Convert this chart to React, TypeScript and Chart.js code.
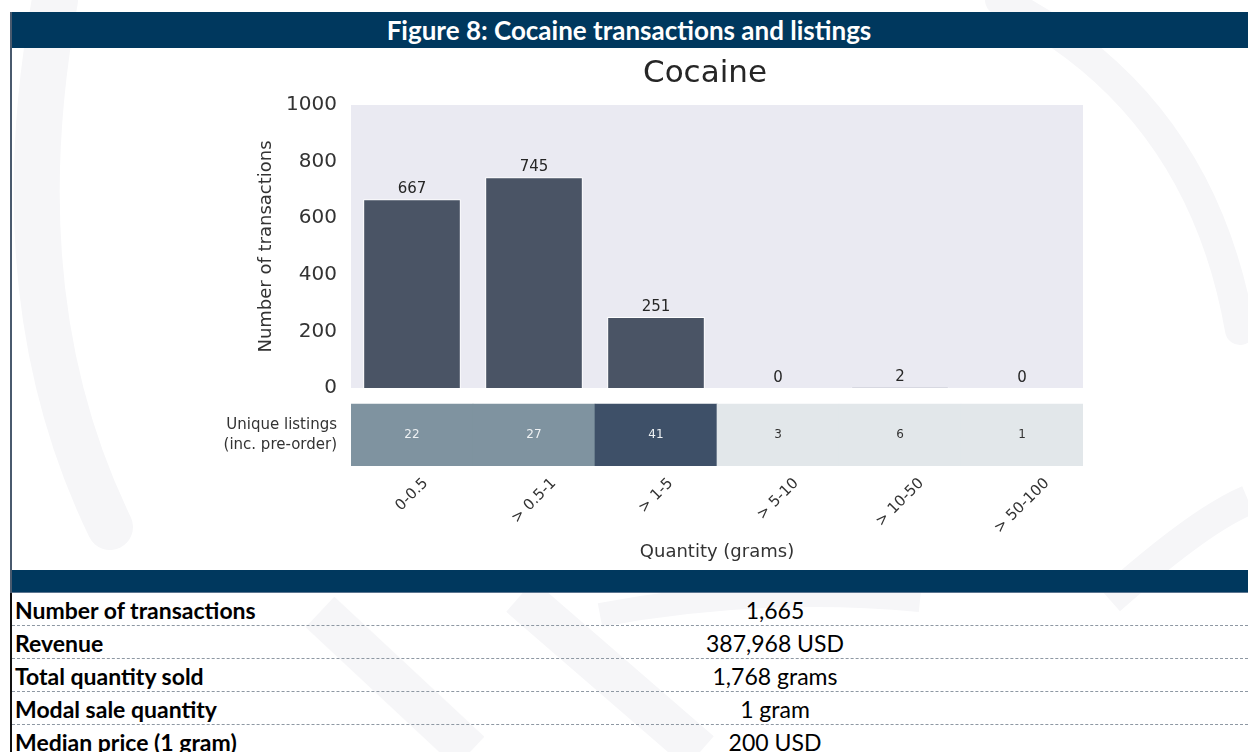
import React, { useEffect, useRef } from 'react';
import { Chart, registerables } from 'chart.js';

Chart.register(...registerables);

// ---------- data ----------
const categories = ['0-0.5', '> 0.5-1', '> 1-5', '> 5-10', '> 10-50', '> 50-100'];
const transactions = [667, 745, 251, 0, 2, 0];
const uniqueListings = [22, 27, 41, 3, 6, 1];
const yTicks = [0, 200, 400, 600, 800, 1000];
const chartTitle = 'Cocaine';
const figureTitle = 'Figure 8: Cocaine transactions and listings';
const yAxisLabel = 'Number of transactions';
const xAxisLabel = 'Quantity (grams)';
const listingsLabel = ['Unique listings', '(inc. pre-order)'];
const statLabels = ['Number of transactions', 'Revenue', 'Total quantity sold', 'Modal sale quantity', 'Median price (1 gram)'];
const statValues = ['1,665', '387,968 USD', '1,768 grams', '1 gram', '200 USD'];

// ---------- styles ----------
const NAVY = '#00385E';
const BAR = '#4A5465';
const PLOT_BG = '#EAEAF2';
const TXT = '#333333';
const FONT = "'DejaVu Sans', sans-serif";
const CAL = "Lato, 'Open Sans', sans-serif";
const SWIRL = '#F6F6F8';

const cellColor = (v: number) => (v >= 35 ? '#3E5068' : v >= 15 ? '#7F93A0' : '#E2E7EA');
const cellText = (v: number) => (v >= 15 ? '#EEF1F3' : '#333333');

const bgPlugin = {
  id: 'plotBg',
  beforeDatasetsDraw(chart: any) {
    const { ctx, chartArea } = chart;
    const y = chart.scales.y;
    ctx.save();
    ctx.fillStyle = PLOT_BG;
    ctx.fillRect(chartArea.left, y.top, chartArea.right - chartArea.left, y.bottom - y.top);
    ctx.restore();
  },
};

const labelPlugin = {
  id: 'labels',
  afterDraw(chart: any) {
    const { ctx, chartArea } = chart;
    ctx.save();
    // title
    ctx.font = `31px ${FONT}`;
    ctx.fillStyle = '#262626';
    ctx.textAlign = 'center';
    ctx.textBaseline = 'alphabetic';
    ctx.fillText(chartTitle, (chartArea.left + chartArea.right) / 2 - 12, 34);

    // bar value labels
    const m0 = chart.getDatasetMeta(0);
    ctx.font = `15px ${FONT}`;
    ctx.fillStyle = '#262626';
    m0.data.forEach((el: any, i: number) => {
      ctx.fillText(String(transactions[i]), el.x, el.y - 6);
    });

    // heatmap cell labels
    const m1 = chart.getDatasetMeta(1);
    ctx.font = `12px ${FONT}`;
    ctx.textBaseline = 'middle';
    m1.data.forEach((el: any, i: number) => {
      ctx.fillStyle = cellText(uniqueListings[i]);
      ctx.fillText(String(uniqueListings[i]), el.x, (el.y + el.base) / 2);
    });

    // rotated x tick labels (centered like matplotlib)
    const xs = chart.scales.x;
    const fs = 15;
    ctx.font = `${fs}px ${FONT}`;
    ctx.fillStyle = TXT;
    categories.forEach((lab, i) => {
      const x = xs.getPixelForTick(i);
      const w = ctx.measureText(lab).width;
      const half = ((w + fs * 0.75) * Math.SQRT1_2) / 2;
      ctx.save();
      ctx.translate(x, xs.top + 11 + half);
      ctx.rotate(-Math.PI / 4);
      ctx.textAlign = 'center';
      ctx.textBaseline = 'middle';
      ctx.fillText(lab, 0, 0);
      ctx.restore();
    });
    ctx.restore();
  },
};

function BarChart() {
  const ref = useRef<HTMLCanvasElement>(null);
  useEffect(() => {
    if (!ref.current) return;
    const chart = new Chart(ref.current, {
      type: 'bar',
      data: {
        labels: categories,
        datasets: [
          {
            data: transactions,
            yAxisID: 'y',
            backgroundColor: BAR,
            borderColor: '#ffffff',
            borderWidth: 1,
            barPercentage: 0.8,
            categoryPercentage: 1,
            grouped: false,
          } as any,
          {
            data: uniqueListings.map(() => [0, 1]),
            yAxisID: 'y2',
            backgroundColor: uniqueListings.map(cellColor),
            borderWidth: 0,
            barPercentage: 1,
            categoryPercentage: 1,
            grouped: false,
          } as any,
        ],
      },
      options: {
        responsive: false,
        animation: false,
        events: [],
        layout: { padding: { top: 57, right: 165, left: 0, bottom: 0 } },
        plugins: {
          legend: { display: false },
          tooltip: { enabled: false },
          title: { display: false },
        },
        scales: {
          x: {
            type: 'category',
            offset: true,
            grid: { display: false, drawTicks: false },
            border: { display: false },
            ticks: { display: false },
            title: {
              display: true,
              text: xAxisLabel,
              color: TXT,
              font: { family: FONT, size: 18 },
              padding: { top: 0, bottom: 7 },
            },
            afterFit: (s: any) => {
              s.height = 104;
            },
          },
          y: {
            type: 'linear',
            position: 'left',
            stack: 'v',
            stackWeight: 283,
            weight: 2,
            min: 0,
            max: 1000,
            afterBuildTicks: (s: any) => {
              s.ticks = yTicks.map((v) => ({ value: v }));
            },
            ticks: {
              callback: (v: any) => String(v),
              color: TXT,
              font: { family: FONT, size: 20 },
              padding: 14,
            },
            grid: { display: false, drawTicks: false },
            border: { display: false },
            title: {
              display: true,
              text: yAxisLabel,
              color: TXT,
              font: { family: FONT, size: 18 },
              padding: { top: 256, bottom: 0 },
            },
            afterFit: (s: any) => {
              s.width = 351;
            },
          },
          y2: {
            type: 'linear',
            position: 'left',
            stack: 'v',
            stackWeight: 78,
            weight: 1,
            min: 0,
            max: 78 / 62,
            afterBuildTicks: (s: any) => {
              s.ticks = [{ value: 0.5 }];
            },
            ticks: {
              callback: () => listingsLabel,
              color: TXT,
              font: { family: FONT, size: 15, lineHeight: 1.3 },
              padding: 14,
            },
            grid: { display: false, drawTicks: false },
            border: { display: false },
            afterFit: (s: any) => {
              s.width = 351;
            },
          },
        },
      } as any,
      plugins: [bgPlugin, labelPlugin],
    });
    return () => chart.destroy();
  }, []);
  return (
    <canvas
      ref={ref}
      width={1248}
      height={522}
      style={{ position: 'absolute', left: 0, top: 48, width: 1248, height: 522 }}
    />
  );
}

export default function App() {
  const rowTop = 593;
  const rowH = 33;
  return (
    <div
      style={{
        position: 'absolute',
        left: 0,
        top: 0,
        width: 1248,
        height: 752,
        overflow: 'hidden',
        background: '#ffffff',
      }}
    >
      <svg width={1248} height={752} style={{ position: 'absolute', left: 0, top: 0 }}>
        <path d="M 55 0 Q 0 300 110 527" stroke={SWIRL} strokeWidth={46} fill="none" strokeLinecap="round" />
        <path d="M 1000 0 Q 1200 100 1240 330" stroke={SWIRL} strokeWidth={30} fill="none" strokeLinecap="round" />
        <path d="M 600 615 Q 760 585 920 600" stroke={SWIRL} strokeWidth={24} fill="none" />
        <path d="M 1110 600 Q 1200 520 1248 500" stroke={SWIRL} strokeWidth={30} fill="none" />
        <path d="M 320 612 L 470 752" stroke={SWIRL} strokeWidth={42} fill="none" />
        <path d="M 520 596 L 700 752" stroke={SWIRL} strokeWidth={42} fill="none" />
      </svg>
      <div
        style={{
          position: 'absolute',
          left: 10,
          top: 12,
          width: 1238,
          height: 36,
          background: NAVY,
          color: '#ffffff',
          fontFamily: CAL,
          fontWeight: 700,
          fontSize: 26,
          display: 'flex',
          alignItems: 'center',
          justifyContent: 'center',
          whiteSpace: 'nowrap',
        }}
      >
        {figureTitle}
      </div>
      <BarChart />
      <div style={{ position: 'absolute', left: 10, top: 570, width: 1238, height: 22, background: NAVY, borderBottom: '1px solid #5B7590' }} />
      <div style={{ position: 'absolute', left: 10, top: 12, width: 2, height: 581, background: '#4A5A6E' }} />
      <div style={{ position: 'absolute', left: 10, top: 593, width: 2, height: 170, background: '#111111' }} />
      {statLabels.map((lab, i) => (
        <div
          key={lab}
          style={{
            position: 'absolute',
            left: 12,
            top: rowTop + i * rowH,
            width: 1236,
            height: rowH - 1,
            borderBottom: '1px dashed #8E98A3',
            fontFamily: CAL,
            fontSize: 23,
            lineHeight: '27px',
            color: '#000000',
          }}
        >
          <span style={{ position: 'absolute', left: 3, bottom: 1, fontWeight: 700, whiteSpace: 'nowrap' }}>{lab}</span>
          <span
            style={{
              position: 'absolute',
              left: 763,
              bottom: 1,
              transform: 'translateX(-50%)',
              whiteSpace: 'nowrap',
            }}
          >
            {statValues[i]}
          </span>
        </div>
      ))}
    </div>
  );
}
